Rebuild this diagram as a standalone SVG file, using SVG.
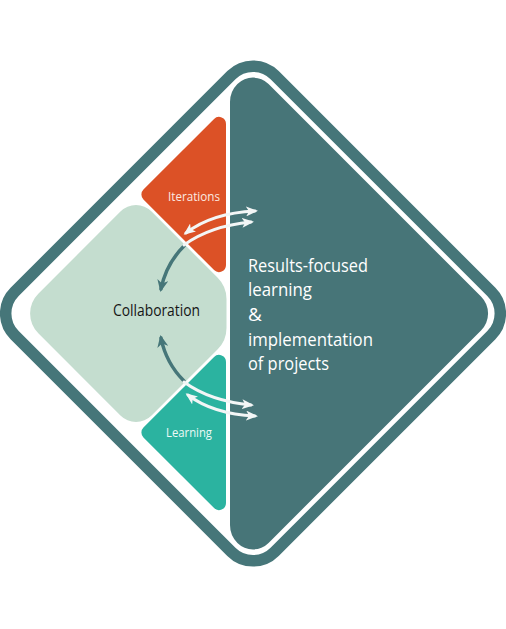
<svg xmlns="http://www.w3.org/2000/svg" width="506" height="629" viewBox="0 0 506 629">
<style>
.lbl{font-family:"Open Sans","Noto Sans","Liberation Sans",sans-serif}
.wl{fill:none;stroke:#f3f6f6;stroke-width:3;stroke-linecap:round}
.dl{fill:none;stroke:#467679;stroke-width:3.5;stroke-linecap:round}
</style>
<defs>
<marker id="wh" markerUnits="userSpaceOnUse" markerWidth="12" markerHeight="10" viewBox="0 0 12 10" refX="9" refY="5" orient="auto-start-reverse">
<path d="M0,0 L12,5 L0,10 L3,5 Z" fill="#f3f6f6"/>
</marker>
<marker id="dh" markerUnits="userSpaceOnUse" markerWidth="12" markerHeight="11" viewBox="0 0 12 11" refX="9" refY="5.5" orient="auto">
<path d="M0,0 L12,5.5 L0,11 L3.5,5.5 Z" fill="#467679"/>
</marker>
</defs>
<rect width="506" height="629" fill="#ffffff"/>
<g id="frame">
<rect x="-183.85" y="-183.85" width="367.7" height="367.7" rx="30.6" fill="none" stroke="#467679" stroke-width="11.5" transform="translate(253,313.5) rotate(45)"/>
</g>
<g id="results">
<path d="M230,102 A25.35,25.35 0 0 1 237.43,84.07 A22,22 0 0 1 268.56,84.06 L481.03,296.53 A24,24 0 0 1 481.03,330.47 L268.56,542.94 A22,22 0 0 1 237.43,542.93 A25.35,25.35 0 0 1 230,525 Z" fill="#477578"/>
<text class="lbl" fill="#ffffff" font-size="19">
<tspan x="248" y="272" textLength="120" lengthAdjust="spacingAndGlyphs">Results-focused</tspan>
<tspan x="248" y="296" textLength="64" lengthAdjust="spacingAndGlyphs">learning</tspan>
<tspan x="248" y="321">&amp;</tspan>
<tspan x="248" y="346" textLength="125" lengthAdjust="spacingAndGlyphs">implementation</tspan>
<tspan x="248" y="370" textLength="81" lengthAdjust="spacingAndGlyphs">of projects</tspan>
</text>
</g>
<g id="collaboration">
<path d="M120.44,211.56 A22,22 0 0 1 151.56,211.56 L217.71,277.71 A30,30 0 0 1 226.5,298.93 L226.5,328.07 A30,30 0 0 1 217.71,349.29 L151.56,415.44 A22,22 0 0 1 120.44,415.44 L38.3,333.3 A28,28 0 0 1 38.3,293.7 Z" fill="#c4ddcf"/>
<text class="lbl" x="156.5" y="316" font-size="15.5" fill="#151515" text-anchor="middle" textLength="87" lengthAdjust="spacingAndGlyphs">Collaboration</text>
</g>
<g id="iterations">
<path d="M143.45,189.55 L214.05,118.95 A7,7 0 0 1 226,123.9 L226,265.1 A7,7 0 0 1 214.05,270.05 L143.45,199.45 A7,7 0 0 1 143.45,189.55 Z" fill="#dc5126"/>
<text class="lbl" x="194" y="201" font-size="13" fill="#fbe9e1" text-anchor="middle" textLength="52" lengthAdjust="spacingAndGlyphs">Iterations</text>
</g>
<g id="learning">
<path d="M143.45,437.45 L214.05,508.05 A7,7 0 0 0 226,503.1 L226,361.9 A7,7 0 0 0 214.05,356.95 L143.45,427.55 A7,7 0 0 0 143.45,437.45 Z" fill="#2bb3a0"/>
<text class="lbl" x="189" y="437" font-size="13" fill="#eefaf7" text-anchor="middle" textLength="46" lengthAdjust="spacingAndGlyphs">Learning</text>
</g>
<g id="connectors">
<path class="dl" d="M184,246 Q166,264 161,289" marker-end="url(#dh)"/>
<path class="wl" d="M186,233 Q212,213 255,211" marker-start="url(#wh)" marker-end="url(#wh)"/>
<path class="wl" d="M184,245 Q210,226 251,222" marker-end="url(#wh)"/>
<path class="dl" d="M184,381 Q166,363 161,338" marker-end="url(#dh)"/>
<path class="wl" d="M184,382 Q210,401 251,405" marker-end="url(#wh)"/>
<path class="wl" d="M188,395 Q213,414 255,416" marker-start="url(#wh)" marker-end="url(#wh)"/>
</g>
</svg>
